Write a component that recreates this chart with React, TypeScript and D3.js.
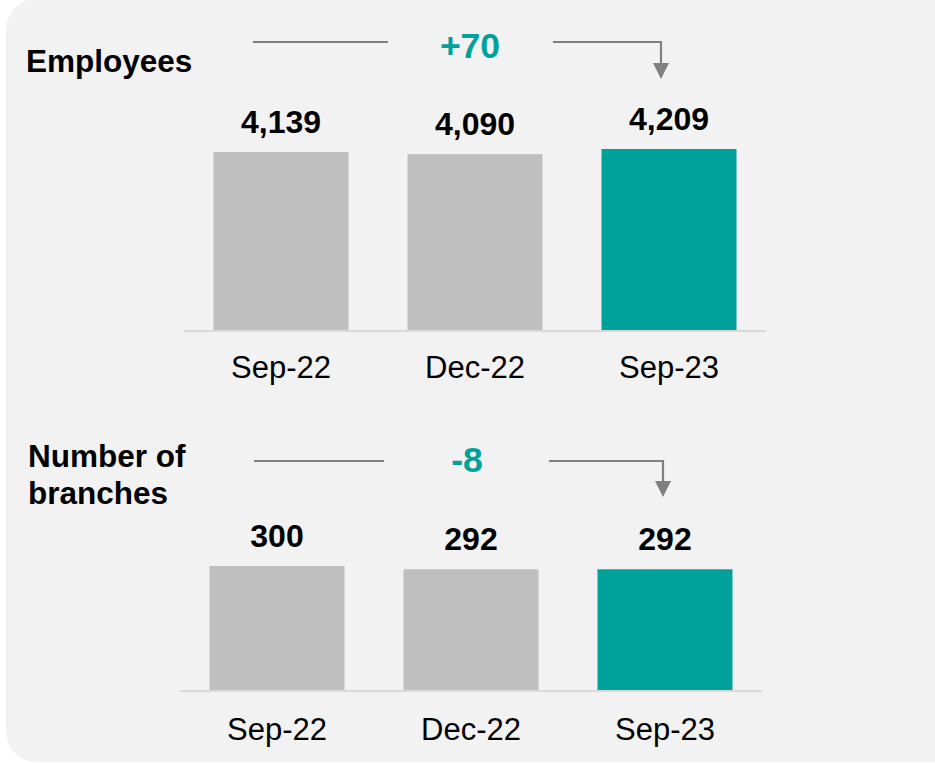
import React from "react";
import * as d3 from "d3";

const categories = ["Sep-22", "Dec-22", "Sep-23"];
const employees = [4139, 4090, 4209];
const branches = [300, 292, 292];
const employeeLabels = ["4,139", "4,090", "4,209"];
const branchLabels = ["300", "292", "292"];
const employeeDelta = "+70";
const branchDelta = "-8";

const W = 935;
const H = 763;
const FONT = "'Liberation Sans', Arial, Helvetica, sans-serif";
const TEAL = "#00a19a";
const GREY = "#bfbfbf";
const LINE = "#808080";

type PanelProps = {
  values: number[];
  labels: string[];
  delta: string;
  title: string[];
  titleX: number;
  titleY: number;
  x0: number;
  x1: number;
  baseY: number;
  topY: number;
  catY: number;
  arrowY: number;
  leftLine: [number, number];
  rightLine: [number, number];
  deltaX: number;
  deltaY: number;
  arrowTip: number;
};

function Panel(p: PanelProps) {
  const x = d3
    .scaleBand<string>()
    .domain(categories)
    .range([p.x0, p.x1])
    .paddingInner(0.304)
    .paddingOuter(0.152);
  const maxV = d3.max(p.values) as number;
  const y = d3.scaleLinear().domain([0, maxV]).range([p.baseY, p.topY]);
  const ax = p.rightLine[1];
  return (
    <g>
      {p.title.map((t, i) => (
        <text
          key={i}
          x={p.titleX}
          y={p.titleY + i * 37}
          fontFamily={FONT}
          fontWeight="bold"
          fontSize={31.5}
          fill="#000"
        >
          {t}
        </text>
      ))}
      <line x1={p.leftLine[0]} x2={p.leftLine[1]} y1={p.arrowY} y2={p.arrowY} stroke={LINE} strokeWidth={2.2} />
      <path
        d={`M${p.rightLine[0]},${p.arrowY} H${ax} V${p.arrowTip - 14}`}
        fill="none"
        stroke={LINE}
        strokeWidth={2.2}
      />
      <path d={`M${ax - 8},${p.arrowTip - 16} L${ax + 8},${p.arrowTip - 16} L${ax},${p.arrowTip} Z`} fill={LINE} />
      <text
        x={p.deltaX}
        y={p.deltaY}
        textAnchor="middle"
        fontFamily={FONT}
        fontWeight="bold"
        fontSize={35.5}
        fill={TEAL}
      >
        {p.delta}
      </text>
      {categories.map((c, i) => (
        <g key={c}>
          <rect
            x={x(c)}
            y={y(p.values[i])}
            width={x.bandwidth()}
            height={p.baseY - y(p.values[i])}
            fill={i === categories.length - 1 ? TEAL : GREY}
          />
          <text
            x={(x(c) as number) + x.bandwidth() / 2}
            y={y(p.values[i]) - 19}
            textAnchor="middle"
            fontFamily={FONT}
            fontWeight="bold"
            fontSize={32}
            fill="#000"
          >
            {p.labels[i]}
          </text>
          <text
            x={(x(c) as number) + x.bandwidth() / 2}
            y={p.catY}
            textAnchor="middle"
            fontFamily={FONT}
            fontSize={31}
            fill="#000"
          >
            {c}
          </text>
        </g>
      ))}
      <line x1={p.x0} x2={p.x1} y1={p.baseY + 1} y2={p.baseY + 1} stroke="#d9d9d9" strokeWidth={2} />
    </g>
  );
}

export default function App() {
  return (
    <svg
      width={W}
      height={H}
      style={{ position: "absolute", left: 0, top: 0, display: "block" }}
    >
      <rect x={0} y={0} width={W} height={H} fill="#ffffff" />
      <rect x={6} y={-1} width={980} height={763} rx={30} ry={30} fill="#f2f2f2" />
      <Panel
        values={employees}
        labels={employeeLabels}
        delta={employeeDelta}
        title={["Employees"]}
        titleX={26}
        titleY={72}
        x0={184}
        x1={766}
        baseY={330}
        topY={149}
        catY={378}
        arrowY={42}
        leftLine={[253, 388]}
        rightLine={[553, 661]}
        deltaX={470}
        deltaY={58}
        arrowTip={79}
      />
      <Panel
        values={branches}
        labels={branchLabels}
        delta={branchDelta}
        title={["Number of", "branches"]}
        titleX={28}
        titleY={467}
        x0={180}
        x1={762}
        baseY={690}
        topY={566}
        catY={740}
        arrowY={461}
        leftLine={[254, 384]}
        rightLine={[549, 663]}
        deltaX={467}
        deltaY={472}
        arrowTip={497}
      />
    </svg>
  );
}
